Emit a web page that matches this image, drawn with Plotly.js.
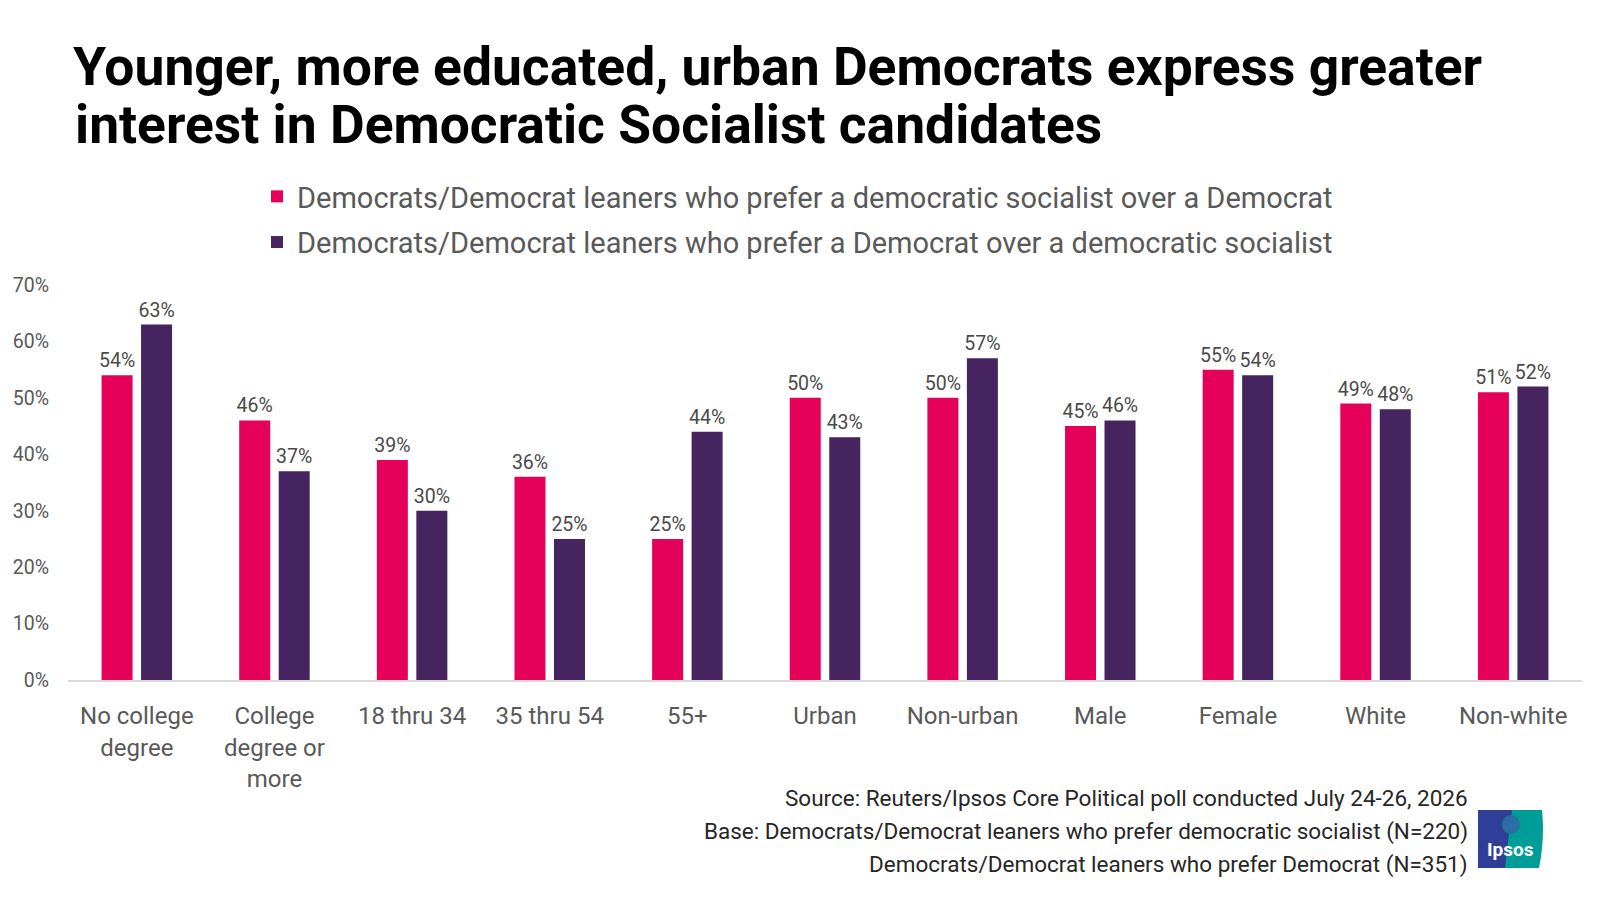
<!DOCTYPE html>
<html>
<head>
<meta charset="utf-8">
<script src="https://cdn.plot.ly/plotly-3.0.1.min.js"></script>
<style>
  html, body { margin: 0; padding: 0; background: #ffffff; }
  #chart { width: 1600px; height: 900px; }
</style>
</head>
<body>
<div id="chart"></div>
<script>
const CATEGORIES = [
  'No college<br>degree', 'College<br>degree or<br>more', '18 thru 34', '35 thru 54', '55+',
  'Urban', 'Non-urban', 'Male', 'Female', 'White', 'Non-white',
];
const PREFER_SOCIALIST = [54, 46, 39, 36, 25, 50, 50, 45, 55, 49, 51];
const PREFER_DEMOCRAT = [63, 37, 30, 25, 44, 43, 57, 46, 54, 48, 52];
const SERIES_NAMES = [
  'Democrats/Democrat leaners who prefer a democratic socialist over a Democrat',
  'Democrats/Democrat leaners who prefer a Democrat over a democratic socialist',
];
const TITLE_LINES = [
  'Younger, more educated, urban Democrats express greater',
  'interest in Democratic Socialist candidates',
];
const SOURCE_LINES = [
  'Source: Reuters/Ipsos Core Political poll conducted July 24-26, 2026',
  'Base: Democrats/Democrat leaners who prefer democratic socialist (N=220)',
  'Democrats/Democrat leaners who prefer Democrat (N=351)',
];

const PINK = '#E5005A';
const PURPLE = '#45245F';
const FONT = 'Roboto, "Open Sans", sans-serif';

// plot area in pixels
const M = { l: 68, r: 18, t: 285, b: 220, autoexpand: false };
const W = 1600, H = 900;
const PW = W - M.l - M.r, PH = H - M.t - M.b;
const px = (x) => (x - M.l) / PW;
const py = (y) => (H - M.b - y) / PH;

const barTrace = (name, values, color) => ({
  type: 'bar',
  name,
  x: CATEGORIES,
  y: values,
  marker: { color },
  text: values.map(v => `${v}%`),
  textposition: 'outside',
  textfont: { family: FONT, size: 19.5, color: '#4a4a4a' },
  constraintext: 'none',
  cliponaxis: false,
  legendgroup: name,
  hoverinfo: 'skip',
});

const traces = [
  barTrace(SERIES_NAMES[0], PREFER_SOCIALIST, PINK),
  barTrace(SERIES_NAMES[1], PREFER_DEMOCRAT, PURPLE),
];

const TITLE_FONT = { family: FONT, size: 53.4, color: '#000000', weight: 700 };

// second title line, kept tight to the first one
const annotations = [{
  text: TITLE_LINES[1],
  xref: 'paper', yref: 'paper',
  x: px(73), y: py(124),
  xanchor: 'left', yanchor: 'middle',
  showarrow: false,
  font: TITLE_FONT,
}];

// source notes, right aligned under the plot
SOURCE_LINES.forEach((t, i) => annotations.push({
  text: t,
  xref: 'paper', yref: 'paper',
  x: px(1470), y: py(798 + i * 33),
  xanchor: 'right', yanchor: 'middle',
  showarrow: false,
  font: { family: FONT, size: 22.5, color: '#262626' },
}));

// logo
const LX0 = 1478, LX1 = 1542, LY0 = 810, LY1 = 868;
annotations.push({
  text: '<b>Ipsos</b>',
  xref: 'paper', yref: 'paper',
  x: px((LX0 + LX1) / 2), y: py(849),
  xanchor: 'center', yanchor: 'middle',
  showarrow: false,
  font: { family: FONT, size: 19, color: '#ffffff' },
});

const shapes = [
  {
    type: 'rect', xref: 'paper', yref: 'paper', layer: 'above',
    x0: px(LX0), x1: px(LX0 + 38), y0: py(LY1), y1: py(LY0),
    fillcolor: '#2F3F98', line: { width: 0 },
  },
  {
    type: 'path', xref: 'paper', yref: 'paper', layer: 'above',
    path: `M ${px(LX0 + 34)} ${py(LY0)} L ${px(LX1)} ${py(LY0)} ` +
          `Q ${px(LX1 + 3)} ${py((LY0 + LY1) / 2)} ${px(LX1 - 3)} ${py(LY1)} ` +
          `L ${px(LX0 + 27)} ${py(LY1)} Q ${px(LX0 + 30)} ${py(840)} ${px(LX0 + 34)} ${py(LY0)} Z`,
    fillcolor: '#009C98', line: { width: 0 },
  },
  {
    type: 'circle', xref: 'paper', yref: 'paper', layer: 'above',
    x0: px(LX0 + 24), x1: px(LX0 + 42), y0: py(834), y1: py(815),
    fillcolor: '#2A6FA3', line: { width: 0 },
  },
];

const layout = {
  width: W,
  height: H,
  paper_bgcolor: '#ffffff',
  plot_bgcolor: '#ffffff',
  margin: M,
  font: { family: FONT, color: '#595959' },
  title: {
    text: TITLE_LINES[0],
    xref: 'container', yref: 'container',
    x: 73 / W, y: 1 - 66 / H,
    xanchor: 'left', yanchor: 'middle',
    font: TITLE_FONT,
  },
  barmode: 'group',
  bargap: 0.426,
  bargroupgap: 0.215,
  showlegend: true,
  legend: {
    orientation: 'v',
    traceorder: 'grouped',
    xref: 'container', yref: 'container',
    x: 257 / W, y: 1 - 171 / H,
    xanchor: 'left', yanchor: 'top',
    font: { family: FONT, size: 29, color: '#595959' },
    tracegroupgap: 5,
    bgcolor: 'rgba(0,0,0,0)',
  },
  xaxis: {
    type: 'category',
    showgrid: false,
    showline: true,
    linecolor: '#d9d9d9',
    linewidth: 1.5,
    ticks: '',
    ticklabelstandoff: 14,
    tickfont: { family: FONT, size: 24, color: '#595959' },
    fixedrange: true,
  },
  yaxis: {
    range: [0, 70],
    dtick: 10,
    ticksuffix: '%',
    showgrid: false,
    zeroline: false,
    showline: false,
    ticks: '',
    ticklabelstandoff: 18,
    tickfont: { family: FONT, size: 19.5, color: '#595959' },
    fixedrange: true,
  },
  annotations,
  shapes,
};

Plotly.newPlot('chart', traces, layout, { displayModeBar: false, staticPlot: true });
</script>
</body>
</html>
